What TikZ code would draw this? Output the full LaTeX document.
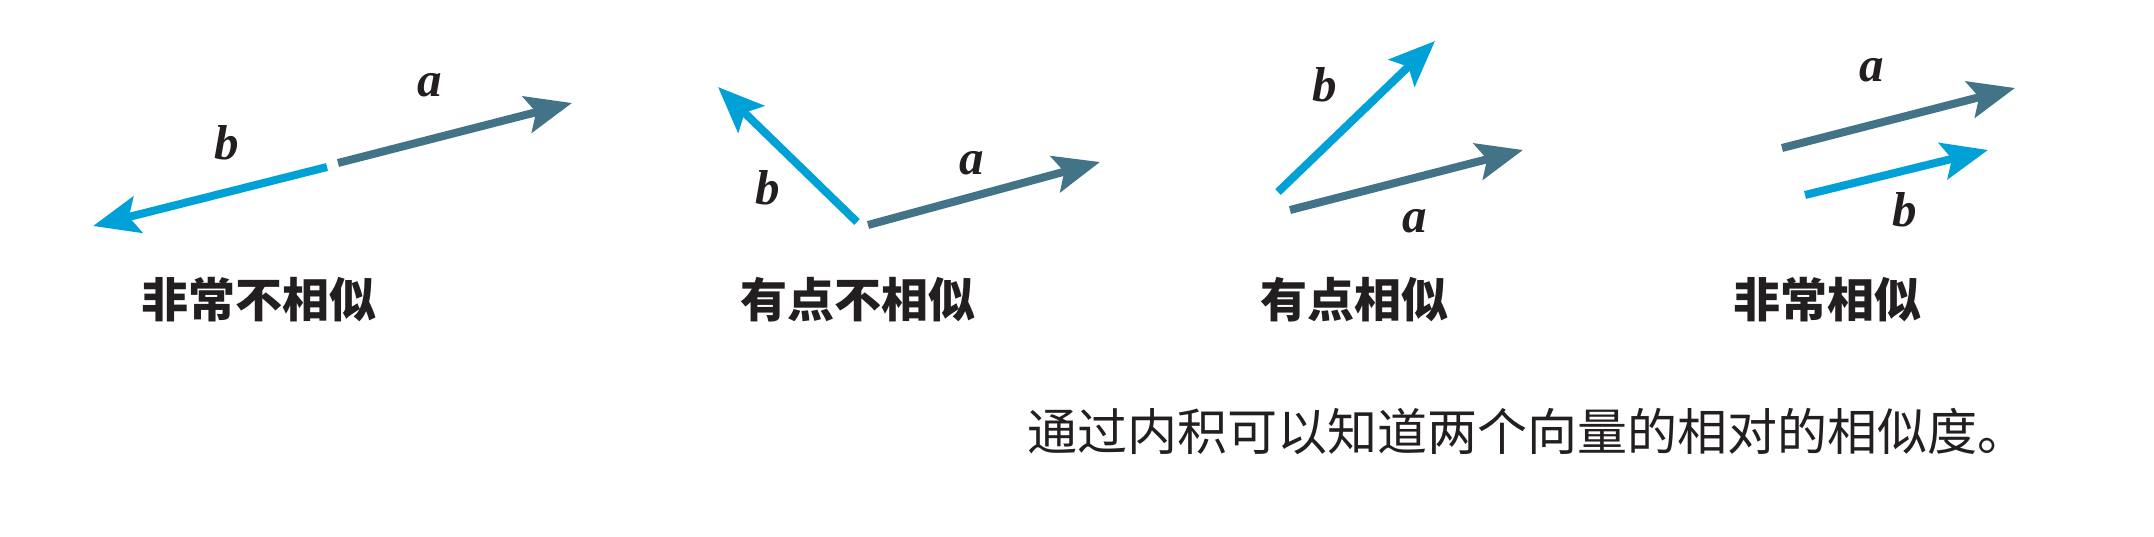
\documentclass[tikz,border=0pt]{standalone}
\usepackage{fontspec}
\newfontfamily\cjk{Noto Sans CJK SC}
\newfontfamily\vecfont{Liberation Serif}[BoldItalicFont={Liberation Serif Bold Italic}]
\usetikzlibrary{arrows.meta}
\definecolor{veca}{RGB}{66,115,134}
\definecolor{vecb}{RGB}{0,161,215}
\definecolor{ink}{RGB}{35,31,32}
\tikzset{
  vec/.style={line width=8pt, -{Stealth[length=46pt,width=37pt,inset=9pt]}},
  va/.style={vec, draw=veca, fill=veca},
  vb/.style={vec, draw=vecb, fill=vecb},
  vlabel/.style={inner sep=0pt, text=ink, font=\vecfont\bfseries\itshape\fontsize{49}{52}\selectfont},
  captext/.style={inner sep=0pt, text=ink, font=\cjk\bfseries\fontsize{47}{50}\selectfont},
  notetext/.style={inner sep=0pt, text=ink, anchor=west, font=\cjk\fontsize{50}{54}\selectfont}
}
\begin{document}
\begin{tikzpicture}[x=1pt,y=-1pt]
\useasboundingbox[fill=white] (0,0) rectangle (2154,536);
% panel 1
\coordinate (a1s) at (338,163); \coordinate (a1e) at (572,103);
\coordinate (b1s) at (327,167); \coordinate (b1e) at (93,226);
\draw[va] (a1s) -- (a1e);
\draw[vb] (b1s) -- (b1e);
\node[vlabel] (la1) at (430,85) {a};
\node[vlabel] (lb1) at (227,143) {b};
\node[captext] (c1) at (259,300) {非常不相似};
% panel 2
\coordinate (a2s) at (868,225); \coordinate (a2e) at (1100,162);
\coordinate (b2s) at (857,222); \coordinate (b2e) at (718,87);
\draw[va] (a2s) -- (a2e);
\draw[vb] (b2s) -- (b2e);
\node[vlabel] (la2) at (972,163) {a};
\node[vlabel] (lb2) at (768,188) {b};
\node[captext] (c2) at (858,300) {有点不相似};
% panel 3
\coordinate (a3s) at (1290,210); \coordinate (a3e) at (1523,150);
\coordinate (b3s) at (1278,192); \coordinate (b3e) at (1435,41);
\draw[va] (a3s) -- (a3e);
\draw[vb] (b3s) -- (b3e);
\node[vlabel] (la3) at (1415,221) {a};
\node[vlabel] (lb3) at (1325,85) {b};
\node[captext] (c3) at (1354,300) {有点相似};
% panel 4
\coordinate (a4s) at (1782,148); \coordinate (a4e) at (2015,88);
\coordinate (b4s) at (1805,195); \coordinate (b4e) at (1988,150);
\draw[va] (a4s) -- (a4e);
\draw[vb] (b4s) -- (b4e);
\node[vlabel] (la4) at (1872,70) {a};
\node[vlabel] (lb4) at (1905,210) {b};
\node[captext] (c4) at (1827,300) {非常相似};
% note
\node[notetext] (n) at (1027,432) {通过内积可以知道两个向量的相对的相似度。};
\end{tikzpicture}
\end{document}
